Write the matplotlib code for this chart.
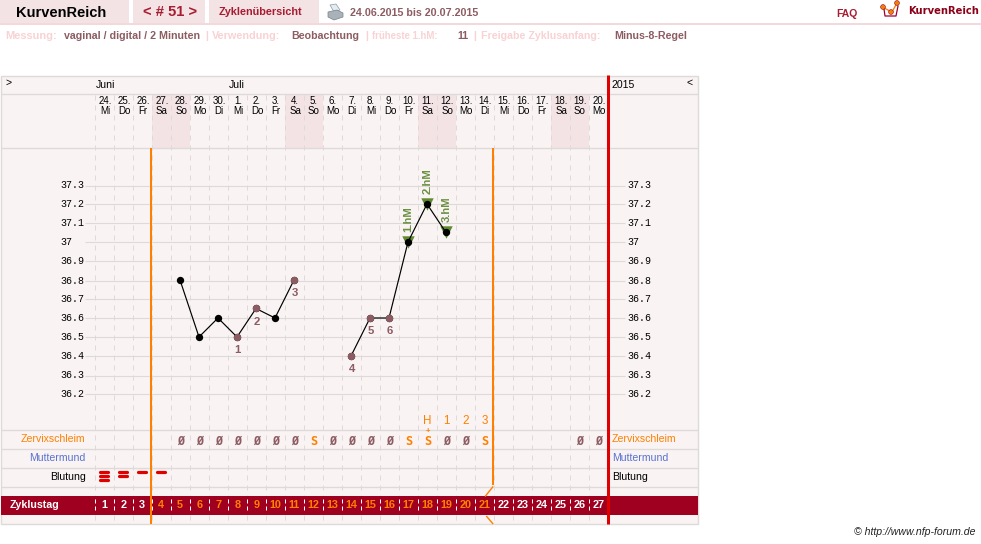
import matplotlib
matplotlib.use("Agg")
import matplotlib.pyplot as plt
from matplotlib.patches import Rectangle, Polygon, Circle

plt.rcParams['font.family'] = ['Liberation Sans', 'DejaVu Sans']

# Zyklusdaten
zyklustage = list(range(1, 28))
datum = ["24.", "25.", "26.", "27.", "28.", "29.", "30.", "1.", "2.", "3.", "4.", "5.", "6.", "7.",
         "8.", "9.", "10.", "11.", "12.", "13.", "14.", "15.", "16.", "17.", "18.", "19.", "20."]
wochentag = ["Mi", "Do", "Fr", "Sa", "So", "Mo", "Di", "Mi", "Do", "Fr", "Sa", "So", "Mo", "Di",
             "Mi", "Do", "Fr", "Sa", "So", "Mo", "Di", "Mi", "Do", "Fr", "Sa", "So", "Mo"]
wochenende = [4, 5, 11, 12, 18, 19, 25, 26]

temp_tage_a = [5, 6, 7, 8, 9, 10, 11]
temp_werte_a = [36.8, 36.5, 36.6, 36.5, 36.65, 36.6, 36.8]
temp_tage_b = [14, 15, 16, 17, 18, 19]
temp_werte_b = [36.4, 36.6, 36.6, 37.0, 37.2, 37.05]

# gezaehlte niedrige Werte
tief_tage = [8, 9, 11, 14, 15, 16]
tief_nummer = ["1", "2", "3", "4", "5", "6"]
hoch_tage = [17, 18, 19]
hoch_namen = ["1.hM", "2.hM", "3.hM"]

temp_skala = [37.3, 37.2, 37.1, 37, 36.9, 36.8, 36.7, 36.6, 36.5, 36.4, 36.3, 36.2]

schleim_tage = [5, 6, 7, 8, 9, 10, 11, 12, 13, 14, 15, 16, 17, 18, 19, 20, 21, 26, 27]
schleim_werte = ["Ø", "Ø", "Ø", "Ø", "Ø", "Ø", "Ø", "S", "Ø", "Ø", "Ø", "Ø", "S", "S", "Ø", "Ø", "S", "Ø", "Ø"]
spitze_tage = [18, 19, 20, 21]
spitze_text = ["H", "1", "2", "3"]
blutung_tage = [1, 2, 3, 4]
blutung_staerke = [3, 2, 1, 1]

ROSA = "#f3e3e5"
FLAECHE = "#f9f3f3"
LINIE = "#dedad8"
ORANGE = "#ff8000"
ROT = "#e00000"
WEINROT = "#a00020"
BRAUN = "#8c5c62"
HELLROSA = "#f9d2d4"
GRUEN = "#5f8a2e"

fig = plt.figure(figsize=(9.81, 5.44), dpi=100)

# Rahmen und Beschriftung in Pixelkoordinaten
rahmen = fig.add_axes([0, 0, 1, 1])
rahmen.set_xlim(0, 981)
rahmen.set_ylim(544, 0)
rahmen.axis("off")

# Kurve: x = Zyklustag, y = Temperatur
ax = fig.add_axes([0, 0, 1, 1])
ax.set_xlim(-4.4737, 47.1579)
ax.set_ylim(35.4105, 38.2737)
ax.axis("off")
ax.patch.set_alpha(0)


def spalte(tag):
    return 104 + 19 * (tag - 1)


def hline(y, x0=0.5, x1=697.5, farbe=LINIE, lw=0.95):
    rahmen.plot([x0, x1], [y, y], color=farbe, lw=lw, solid_capstyle="butt", zorder=2)


def txt(x, y, s, **kw):
    kw.setdefault("va", "center")
    kw.setdefault("ha", "left")
    return rahmen.text(x, y, s, zorder=8, **kw)


# Kopfzeile
for x0, x1 in [(0, 129), (133, 205), (209, 319)]:
    rahmen.add_patch(Rectangle((x0, 0), x1 - x0, 23, color=ROSA, lw=0))
rahmen.add_patch(Rectangle((0, 23), 981, 2, color="#f4d9dc", lw=0))
txt(16, 13, "KurvenReich", fontsize=10.5, color="black", fontweight="bold")
txt(143, 12.5, "< # 51 >", fontsize=10.6, color="#a81c30", fontweight="bold")
txt(219, 12, "Zyklenübersicht", fontsize=7.8, color="#a81c30", fontweight="bold")
txt(350, 12.5, "24.06.2015 bis 20.07.2015", fontsize=7.7, color=BRAUN, fontweight="bold")
txt(836, 14, "FAQ", fontsize=7.5, color="#a81c30", fontweight="bold")
txt(908, 10.5, "KurvenReich", fontsize=7.2, color="#8c0018", fontweight="bold",
    family=["DejaVu Sans"])

# Drucker
rahmen.add_patch(Polygon([(330, 5), (336, 4), (340, 10), (334, 12)], facecolor="#e4ecf2", edgecolor="#8a98a4", lw=0.5))
rahmen.add_patch(Polygon([(328, 12), (337, 10), (343, 13), (343, 17), (334, 20), (328, 17)],
                         facecolor="#a8b2b8", edgecolor="#78828a", lw=0.5))

# Logo
rahmen.plot([882, 892, 897], [7, 12, 3], color="#f08000", lw=0.9, zorder=3)
rahmen.plot([884, 885, 896, 898], [9, 16, 16, 6], color="#a00030", lw=0.9, zorder=3)
for lx, ly in [(883, 7), (891, 12), (897, 3)]:
    rahmen.add_patch(Circle((lx, ly), 2.4, facecolor="#f08000", edgecolor="#a00030", lw=0.4, zorder=4))

# Einstellungen
for x, s, farbe, gr in [(5, "Messung:", HELLROSA, 7.9), (64, "vaginal / digital / 2 Minuten", BRAUN, 7.7),
                        (205, "|", HELLROSA, 7.7), (212, "Verwendung:", HELLROSA, 7.8),
                        (291, "Beobachtung", BRAUN, 7.7), (365, "|", HELLROSA, 7.7),
                        (372, "früheste 1.hM:", HELLROSA, 6.9), (457, "11", BRAUN, 7.7),
                        (473, "|", HELLROSA, 7.7), (481, "Freigabe Zyklusanfang:", HELLROSA, 7.7),
                        (614, "Minus-8-Regel", BRAUN, 7.7)]:
    txt(x, 36, s, fontsize=gr, color=farbe, fontweight="bold")

# Flaeche der Tabelle
rahmen.add_patch(Rectangle((0.5, 75.5), 697, 448.5, facecolor=FLAECHE, edgecolor=LINIE, lw=1, zorder=0))
for t in wochenende:
    rahmen.add_patch(Rectangle((spalte(t) - 9.5, 93.5), 19, 54.5, color=ROSA, lw=0, zorder=1))
for y in [93.5, 148, 429.5, 448.5, 467.5, 486.5]:
    hline(y)
for t in temp_skala:
    y = 185.5 + (37.3 - t) * 190
    hline(y, x0=85, x1=625, lw=0.8)

# gestrichelte Tagesspalten
for tag in zyklustage[:-1] + [0]:
    rahmen.plot([spalte(tag) + 9.5] * 2, [95, 524], color=LINIE, lw=0.72, ls=(0, (5, 5)), zorder=2)

# Zyklustag-Band
rahmen.add_patch(Rectangle((0.5, 496), 697, 19, color=WEINROT, lw=0, zorder=3))
txt(10, 505.5, "Zyklustag", fontsize=7.7, color="white", fontweight="bold")
for tag in zyklustage:
    if tag <= 26:
        rahmen.plot([spalte(tag) + 9.5] * 2, [499, 513], color="white", lw=0.72, ls=(0, (4, 3)), zorder=4)
    farbe = ORANGE if 4 <= tag <= 21 else "white"
    txt(spalte(tag) + 0.2, 505.5, str(tag), fontsize=7.8, color=farbe, fontweight="bold", ha="center")
rahmen.plot([94.5] * 2, [499, 513], color="white", lw=0.72, ls=(0, (4, 3)), zorder=4)

# Monate und Datum
txt(6, 83, ">", fontsize=7.5, color="black")
txt(96, 85.5, "Juni", fontsize=7.6, color="black")
txt(229, 85.5, "Juli", fontsize=7.6, color="black")
txt(612, 85.5, "2015", fontsize=7.6, color="black")
txt(690, 83, "<", fontsize=7.5, color="black", ha="center")
for tag, d, w in zip(zyklustage, datum, wochentag):
    txt(spalte(tag) + 1, 101.5, d, fontsize=7, color="black", ha="center")
    txt(spalte(tag) + 1, 111, w, fontsize=7, color="black", ha="center")

# Temperaturskala links und rechts
for t in temp_skala:
    y = 185.5 + (37.3 - t) * 190
    s = f"{t:g}"
    txt(60, y, s, fontsize=7.2, color="black", family=["Liberation Mono"])
    txt(627.5, y, s, fontsize=7.2, color="black", family=["Liberation Mono"])

# Zeilenbeschriftung
for y, s, farbe in [(439, "Zervixschleim", ORANGE), (458, "Muttermund", "#5a72d0"), (477.5, "Blutung", "black")]:
    txt(85.5, y, s, fontsize=7.6, color=farbe, ha="right")
    txt(612, y, s, fontsize=7.6, color=farbe)

# Zeitgrenzen und Zyklusende
rahmen.plot([151] * 2, [148, 524], color=ORANGE, lw=1.44, solid_capstyle="butt", zorder=5)
rahmen.plot([493] * 2, [148, 485], color=ORANGE, lw=1.44, solid_capstyle="butt", zorder=5)
rahmen.plot([492.7, 485.5], [487, 496], color=ORANGE, lw=1, zorder=5)
rahmen.plot([486.7, 492.7], [516.5, 523.5], color=ORANGE, lw=1, zorder=5)
rahmen.plot([607.5] * 2, [75, 524], color=ROT, lw=2.16, solid_capstyle="butt", zorder=6)

# Schleim, Spitze, Blutung
for tag, s in zip(schleim_tage, schleim_werte):
    farbe = ORANGE if s == "S" else BRAUN
    txt(spalte(tag) + 0.5, 441.5, s, fontsize=8.6, color=farbe, ha="center", fontweight="bold",
        family=["DejaVu Sans Mono"])
txt(spalte(18) + 0.5, 431.5, "+", fontsize=5.5, color=ORANGE, ha="center", fontweight="bold")
for tag, s in zip(spitze_tage, spitze_text):
    txt(spalte(tag) + 0.5, 420.5, s, fontsize=8.4, color=ORANGE, ha="center")
for tag, n in zip(blutung_tage, blutung_staerke):
    for i in range(n):
        rahmen.plot([spalte(tag) - 3.8, spalte(tag) + 3.8], [472 + i * 4] * 2, color=ROT, lw=2.3,
                    solid_capstyle="round", zorder=5)

# Temperaturkurve
for tage, werte in [(temp_tage_a, temp_werte_a), (temp_tage_b, temp_werte_b)]:
    ax.plot(tage, werte, color="black", lw=0.85, zorder=5)
    ax.scatter(tage, werte, s=28, color="black", zorder=6, linewidths=0)

alle_tage = temp_tage_a + temp_tage_b
alle_werte = temp_werte_a + temp_werte_b
for tag, n in zip(tief_tage, tief_nummer):
    wert = alle_werte[alle_tage.index(tag)]
    ax.scatter([tag], [wert], s=28, color=BRAUN, zorder=7, linewidths=0)
    ax.annotate(n, (tag, wert), xytext=(0.5, -9.5), textcoords="offset points", ha="center", va="center",
                fontsize=8.2, fontweight="bold", color=BRAUN, zorder=8)
for tag, n in zip(hoch_tage, hoch_namen):
    wert = alle_werte[alle_tage.index(tag)]
    ax.scatter([tag], [wert], s=80, marker="v", color=GRUEN, zorder=4, linewidths=0)
    ax.scatter([tag], [wert], s=10, marker="D", color="black", zorder=7, linewidths=0)
    ax.annotate(n, (tag, wert), xytext=(0.5, 7.5), textcoords="offset points", ha="center", va="bottom",
                rotation=90, fontsize=8.2, fontweight="bold", color="#6a9040", zorder=8)

txt(976, 532, "© http://www.nfp-forum.de", fontsize=7.6, color="#222222", ha="right", style="italic")

fig.savefig("out.png", dpi=100)
